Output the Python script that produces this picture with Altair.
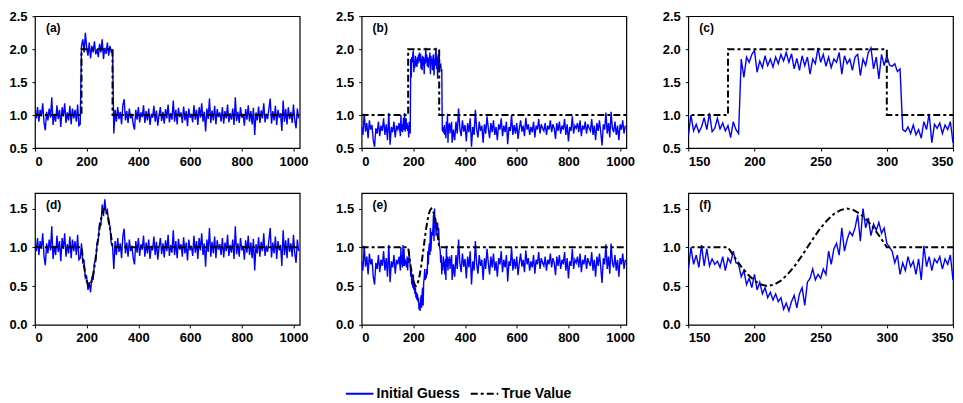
import altair as alt
import pandas as pd

# ---------------- data ----------------
X_STEP5_LEFT_AD = list(range(0, 180, 5))          # 0..175
X_MID = list(range(180, 301, 5))                  # 180..300
X_STEP5_RIGHT_AD = list(range(305, 1021, 5))      # 305..1020
X_LEFT_BE = list(range(0, 150, 5))                # 0..145
X_DETAIL = list(range(150, 351, 2))               # 150..350
X_RIGHT_BE = list(range(355, 1021, 5))            # 355..1020

guess_ad_left = [1.05, 0.95, 1.12, 0.90, 1.08, 0.98, 1.18, 0.88, 0.77, 1.05, 0.92, 1.10,
                 0.96, 1.27, 0.85, 1.02, 0.90, 1.15, 0.94, 1.08, 0.82, 1.12, 0.98, 1.18,
                 0.88, 1.04, 0.92, 1.14, 0.86, 1.10, 0.95, 1.08, 0.90, 1.16, 0.84, 0.86]
guess_a_mid = [2.05, 2.15, 1.95, 2.25, 2.02, 1.90, 2.10, 1.86, 2.05, 1.95, 2.12, 1.92, 2.00,
               1.88, 2.08, 1.95, 2.15, 1.85, 2.02, 1.93, 2.10, 1.90, 2.05, 1.96, 2.00]
guess_d_mid = [1.05, 0.80, 0.82, 0.60, 0.62, 0.45, 0.55, 0.42, 0.62, 0.58, 0.80, 0.82, 1.05,
               1.10, 1.32, 1.28, 1.55, 1.40, 1.62, 1.45, 1.48, 1.30, 1.28, 1.05, 1.02]
guess_ad_right = [0.72, 1.08, 0.90, 1.12, 0.94, 1.05, 0.86, 1.15, 1.24, 0.92, 1.06, 0.88,
                  1.10, 0.95, 1.02, 0.86, 0.78, 1.08, 0.93, 1.12, 0.89, 1.04, 0.97, 1.15,
                  0.88, 1.06, 0.92, 1.10, 0.85, 1.02, 0.96, 1.14, 0.90, 1.07, 0.84, 1.00,
                  1.12, 0.91, 1.05, 0.87, 1.09, 0.95, 1.16, 0.89, 1.03, 0.93, 1.22, 0.90,
                  1.08, 0.86, 1.11, 0.97, 1.04, 0.88, 1.13, 0.92, 1.06, 0.83, 1.10, 0.96,
                  1.02, 0.89, 1.15, 0.93, 1.08, 0.85, 1.12, 0.96, 1.18, 0.90, 1.05, 0.75,
                  1.10, 0.94, 1.25, 0.88, 1.07, 0.92, 1.14, 0.86, 1.09, 0.97, 1.04, 0.90,
                  1.12, 0.87, 1.06, 0.95, 1.16, 0.89, 1.03, 0.93, 1.10, 0.85, 1.27, 0.91,
                  1.05, 0.88, 1.12, 0.96, 1.02, 0.84, 1.09, 0.93, 1.15, 0.90, 1.06, 0.86,
                  1.11, 0.70, 1.04, 0.92, 1.13, 0.88, 1.07, 0.95, 1.18, 0.89, 1.02, 0.94,
                  1.10, 1.25, 0.87, 1.06, 0.92, 1.14, 0.85, 1.08, 0.96, 1.03, 0.76, 1.22,
                  0.90, 1.09, 0.86, 1.12, 0.94, 1.05, 0.88, 1.16, 0.92, 0.80, 1.10, 0.95]

guess_be_left = [0.82, 0.70, 1.02, 0.75, 0.88, 0.65, 0.92, 0.78, 0.85, 0.62, 0.52, 0.80,
                 0.72, 0.90, 0.68, 0.84, 0.76, 0.95, 0.70, 0.86, 0.62, 1.03, 0.55, 0.82,
                 0.74, 0.90, 0.66, 0.84, 0.78, 0.88]
guess_c_detail = [0.68, 1.00, 0.76, 0.86, 0.74, 0.82, 0.96, 0.78, 1.03, 0.75, 0.80, 0.95,
                  0.79, 0.88, 0.76, 0.84, 0.66, 0.90, 0.78, 0.72,
                  1.85, 1.57, 1.88, 1.80, 1.92, 1.98, 1.65, 1.82, 1.72, 1.90,
                  1.75, 1.85, 1.73, 1.88, 1.78, 1.92, 1.82, 1.95, 1.80, 1.93,
                  1.70, 1.86, 1.68, 1.90, 1.75, 1.88, 1.62, 1.85, 1.78, 2.02,
                  1.80, 1.92, 1.74, 1.88, 1.72, 1.85, 1.80, 1.95, 1.62, 1.90,
                  1.78, 1.85, 1.68, 1.88, 1.92, 1.60, 1.85, 1.75, 1.95, 2.02,
                  1.70, 1.88, 1.55, 1.92, 1.75, 1.90, 1.76, 1.74, 1.78, 1.66,
                  1.70,
                  0.78, 0.75, 0.82, 0.72, 0.85, 0.70, 0.78, 0.65, 0.90, 0.78,
                  1.02, 0.58, 0.86, 0.80, 0.88, 0.72, 0.85, 0.78, 0.90, 0.58]
guess_f_detail = [0.70, 1.00, 0.78, 0.90, 0.74, 1.03, 0.76, 0.98, 0.76, 0.85, 0.78, 0.82,
                  0.74, 0.88, 0.70, 0.86, 0.80, 0.95, 0.80, 0.78, 0.62, 0.70, 0.52, 0.60, 0.48,
                  0.65, 0.45, 0.55, 0.40, 0.48, 0.35, 0.42, 0.32, 0.40, 0.30, 0.35, 0.20,
                  0.28, 0.18, 0.30, 0.38, 0.22, 0.40, 0.48, 0.25, 0.55, 0.60, 0.72, 0.58, 0.65,
                  0.60, 0.72, 0.65, 0.95, 0.78, 0.98, 1.05, 0.90, 1.25, 0.95, 1.10, 1.20,
                  1.15, 1.25, 1.42, 1.08, 1.50, 1.25, 1.38, 1.15, 1.30, 1.22, 1.32, 1.18, 1.25,
                  1.05, 1.00, 0.95, 0.80, 0.90, 0.65, 0.80, 0.70, 0.88, 0.75, 0.82, 0.65,
                  0.85, 0.58, 1.02, 0.75, 0.88, 0.70, 0.85, 0.80, 0.88, 0.72, 0.85, 0.78,
                  0.90, 0.58]
guess_be_right = [0.78, 0.62, 0.90, 0.72, 1.10, 0.80, 0.68, 0.92, 0.75, 0.85, 0.60, 0.88,
                  0.74, 0.95, 0.52, 0.82, 0.70, 1.08, 0.78, 0.66, 0.90, 0.76, 0.84, 0.58,
                  0.86, 0.72, 0.98, 0.80, 0.65, 0.88, 0.74, 0.92, 0.70, 0.82, 0.62, 0.86,
                  0.78, 0.95, 0.68, 0.84, 0.74, 0.90, 0.56, 0.82, 0.76, 1.00, 0.70, 0.85,
                  0.72, 0.88, 0.64, 0.80, 0.92, 0.75, 0.84, 0.68, 0.96, 0.78, 0.86, 0.70,
                  0.82, 0.74, 0.90, 0.66, 0.84, 0.78, 0.94, 0.72, 0.86, 0.80, 0.76, 0.88,
                  0.70, 0.84, 0.78, 0.92, 0.74, 0.86, 0.80, 0.64, 0.88, 0.76, 0.90, 0.72,
                  0.84, 0.78, 0.94, 0.70, 0.86, 0.60, 0.82, 0.76, 0.98, 0.72, 0.84, 0.80,
                  0.88, 0.74, 0.92, 0.68, 0.84, 0.78, 0.90, 0.72, 0.86, 0.80, 0.76, 0.94,
                  0.70, 0.84, 0.62, 0.88, 0.76, 0.92, 0.74, 0.54, 0.86, 0.78, 1.04, 0.72,
                  0.88, 0.66, 1.05, 0.80, 0.74, 0.90, 0.70, 0.84, 0.62, 0.86, 0.78, 0.92,
                  0.72, 0.84]

true_step_x = [0, 180, 180, 300, 300, 1024]
true_step_y = [1.0, 1.0, 2.0, 2.0, 1.0, 1.0]
true_wave_x = [0] + list(range(180, 301, 5)) + [1024]
true_wave_y = [1.0, 1.0, 0.87, 0.75, 0.65, 0.57, 0.52, 0.50, 0.52, 0.57, 0.65, 0.75, 0.87,
               1.0, 1.13, 1.25, 1.35, 1.43, 1.48, 1.50, 1.48, 1.43, 1.35, 1.25, 1.13, 1.0, 1.0]

SERIES = ["Initial Guess", "True Value"]
panel_labels = ["(a)", "(b)", "(c)", "(d)", "(e)", "(f)"]
x_ticks_full = [0, 200, 400, 600, 800, 1000]
x_ticks_zoom = [150, 200, 250, 300, 350]
y_ticks_top = [0.5, 1.0, 1.5, 2.0, 2.5]
y_ticks_bot = [0.0, 0.5, 1.0, 1.5]

# ---------------- build panels ----------------
FONT = "Liberation Sans"
color_scale = alt.Scale(domain=SERIES, range=["#0000ff", "#000000"])
dash_scale = alt.Scale(domain=SERIES, range=[[1, 0], [7, 3, 3, 3]])
legend = alt.Legend(orient="none", legendX=310, legendY=363, direction="horizontal",
                    title=None, symbolType="stroke", symbolSize=760, symbolStrokeWidth=2,
                    labelFont=FONT, labelFontWeight="bold", labelFontSize=14,
                    labelColor="black", columnPadding=6, labelLimit=0, labelOffset=2)


def panel(gx, gy, tx, ty, label, xdom, xticks, ydom, yticks):
    gdf = pd.DataFrame({"x": gx, "y": gy, "s": SERIES[0]})
    tdf = pd.DataFrame({"x": tx, "y": ty, "s": SERIES[1]})
    xenc = alt.X("x:Q", scale=alt.Scale(domain=xdom, nice=False, zero=False),
                 axis=alt.Axis(values=xticks, title=None, format="d"))
    yenc = alt.Y("y:Q", scale=alt.Scale(domain=ydom, nice=False, zero=False),
                 axis=alt.Axis(values=yticks, title=None, format=".1f"))
    col = alt.Color("s:N", scale=color_scale, legend=legend)
    dash = alt.StrokeDash("s:N", scale=dash_scale, legend=legend)
    g = alt.Chart(gdf).mark_line(strokeWidth=1.4, clip=True).encode(
        x=xenc, y=yenc, color=col, strokeDash=dash)
    t = alt.Chart(tdf).mark_line(strokeWidth=2, clip=True).encode(
        x=xenc, y=yenc, color=col, strokeDash=dash)
    lab = alt.Chart(pd.DataFrame({"t": [label]})).mark_text(
        align="left", baseline="middle", font=FONT, fontWeight="bold", fontSize=12,
        color="black").encode(text="t:N", x=alt.value(11), y=alt.value(12))
    return alt.layer(g, t, lab).properties(width=265, height=132)


gx_ad = X_STEP5_LEFT_AD + X_MID + X_STEP5_RIGHT_AD
gx_be = X_LEFT_BE + X_DETAIL + X_RIGHT_BE

pa = panel(gx_ad, guess_ad_left + guess_a_mid + guess_ad_right, true_step_x, true_step_y,
           panel_labels[0], [0, 1024], x_ticks_full, [0.5, 2.5], y_ticks_top)
pb = panel(gx_be, guess_be_left + guess_c_detail + guess_be_right, true_step_x, true_step_y,
           panel_labels[1], [0, 1024], x_ticks_full, [0.5, 2.5], y_ticks_top)
pc = panel(X_DETAIL, guess_c_detail, true_step_x, true_step_y,
           panel_labels[2], [150, 350], x_ticks_zoom, [0.5, 2.5], y_ticks_top)
pd_ = panel(gx_ad, guess_ad_left + guess_d_mid + guess_ad_right, true_wave_x, true_wave_y,
            panel_labels[3], [0, 1024], x_ticks_full, [0.0, 1.7], y_ticks_bot)
pe = panel(gx_be, guess_be_left + guess_f_detail + guess_be_right, true_wave_x, true_wave_y,
           panel_labels[4], [0, 1024], x_ticks_full, [0.0, 1.7], y_ticks_bot)
pf = panel(X_DETAIL, guess_f_detail, true_wave_x, true_wave_y,
           panel_labels[5], [150, 350], x_ticks_zoom, [0.0, 1.7], y_ticks_bot)

chart = alt.concat(pa, pb, pc, pd_, pe, pf, columns=3, spacing={"row": 45, "column": 62},
                   bounds="flush").properties(
    padding={"left": 0, "top": 1, "right": 0, "bottom": 0}
).configure_view(stroke="black", strokeWidth=1.2).configure_axis(
    domain=False, grid=False, ticks=True, tickSize=3, tickColor="black", tickWidth=1,
    labelFont=FONT, labelFontWeight="bold", labelFontSize=13, labelColor="black",
    labelPadding=4
).configure_axisY(labelPadding=5)

chart.save("out.html", embed_options={"renderer": "svg", "actions": False})
